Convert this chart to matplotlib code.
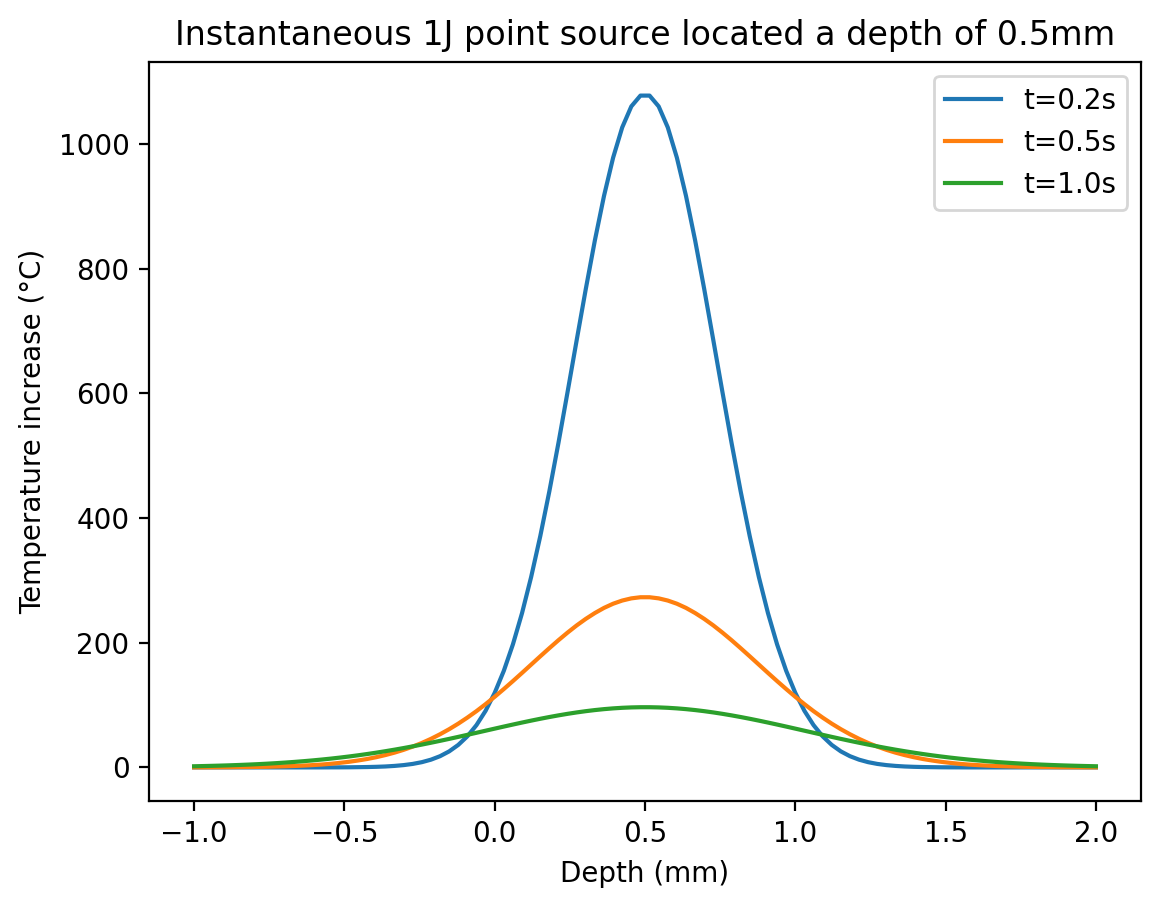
import numpy as np
import matplotlib
matplotlib.use("Agg")
import matplotlib.pyplot as plt

depth = np.linspace(-1.0, 2.0, 100)

t02 = [0.0, 0.0, 0.0, 0.0, 0.0, 0.0, 0.0, 0.0, 0.0, 0.0,
       0.0, 0.0, 0.0, 0.0, 0.0, 0.07, 0.1, 0.2, 0.4, 0.6,
       0.95, 1.5, 2.4, 3.7, 5.6, 8.4, 12.4, 18.0, 25.7, 36.1,
       49.9, 67.9, 90.8, 119.6, 154.9, 197.4, 247.5, 305.4, 370.8, 443.0,
       520.7, 602.3, 685.4, 767.5, 845.7, 916.9, 978.2, 1026.8, 1060.5, 1077.8,
       1077.8, 1060.5, 1026.8, 978.2, 916.9, 845.7, 767.5, 685.4, 602.3, 520.7,
       443.0, 370.8, 305.4, 247.5, 197.4, 154.9, 119.6, 90.8, 67.9, 49.9,
       36.1, 25.7, 18.0, 12.4, 8.4, 5.6, 3.7, 2.4, 1.5, 0.95,
       0.6, 0.4, 0.2, 0.1, 0.07, 0.0, 0.0, 0.0, 0.0, 0.0,
       0.0, 0.0, 0.0, 0.0, 0.0, 0.0, 0.0, 0.0, 0.0, 0.0]

t05 = [0.1, 0.1, 0.2, 0.25, 0.3, 0.5, 0.6, 0.8, 1.0, 1.4,
       1.8, 2.3, 2.9, 3.7, 4.6, 5.8, 7.3, 9.0, 11.1, 13.5,
       16.4, 19.8, 23.7, 28.2, 33.4, 39.2, 45.8, 53.2, 61.3, 70.2,
       79.9, 90.3, 101.5, 113.3, 125.7, 138.5, 151.6, 164.9, 178.2, 191.3,
       204.1, 216.3, 227.8, 238.3, 247.7, 255.9, 262.6, 267.7, 271.2, 273.0,
       273.0, 271.2, 267.7, 262.6, 255.9, 247.7, 238.3, 227.8, 216.3, 204.1,
       191.3, 178.2, 164.9, 151.6, 138.5, 125.7, 113.3, 101.5, 90.3, 79.9,
       70.2, 61.3, 53.2, 45.8, 39.2, 33.4, 28.2, 23.7, 19.8, 16.4,
       13.5, 11.1, 9.0, 7.3, 5.8, 4.6, 3.7, 2.9, 2.3, 1.8,
       1.4, 1.0, 0.8, 0.6, 0.5, 0.3, 0.25, 0.2, 0.1, 0.1]

t10 = [1.84, 2.17, 2.53, 2.94, 3.41, 3.94, 4.54, 5.21, 5.97, 6.82,
       7.76, 8.81, 9.96, 11.22, 12.60, 14.10, 15.74, 17.51, 19.42, 21.48,
       23.67, 26.00, 28.46, 31.05, 33.77, 36.61, 39.57, 42.62, 45.76, 48.98,
       52.25, 55.56, 58.89, 62.21, 65.52, 68.77, 71.95, 75.04, 78.01, 80.83,
       83.49, 85.95, 88.20, 90.22, 91.99, 93.49, 94.71, 95.63, 96.25, 96.56,
       96.56, 96.25, 95.63, 94.71, 93.49, 91.99, 90.22, 88.20, 85.95, 83.49,
       80.83, 78.01, 75.04, 71.95, 68.77, 65.52, 62.21, 58.89, 55.56, 52.25,
       48.98, 45.76, 42.62, 39.57, 36.61, 33.77, 31.05, 28.46, 26.00, 23.67,
       21.48, 19.42, 17.51, 15.74, 14.10, 12.60, 11.22, 9.96, 8.81, 7.76,
       6.82, 5.97, 5.21, 4.54, 3.94, 3.41, 2.94, 2.53, 2.17, 1.84]

labels = ["t=0.2s", "t=0.5s", "t=1.0s"]

DPI = 200
fig = plt.figure(figsize=(1161 / DPI, 908 / DPI), dpi=DPI)
ax = fig.add_axes([149 / 1161, 1 - 801 / 908, (1141 - 149) / 1161, (801 - 62) / 908])
for vals, lab in zip([t02, t05, t10], labels):
    ax.plot(depth, vals, label=lab)
ax.set_xlabel("Depth (mm)")
ax.set_ylabel("Temperature increase (°C)")
ax.set_title("Instantaneous 1J point source located a depth of 0.5mm")
ax.legend(loc="upper right")
fig.savefig("out.png", dpi=DPI)
